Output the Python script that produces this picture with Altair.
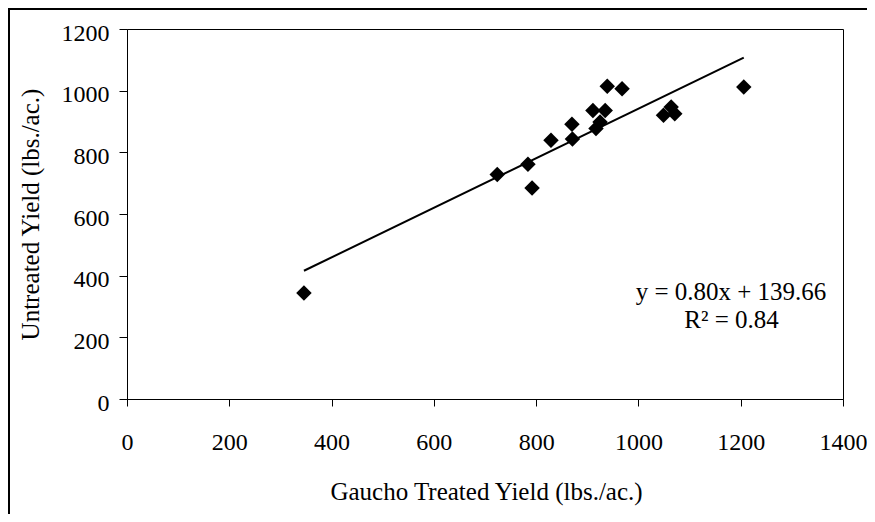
import altair as alt
import pandas as pd

# ---- data ----
treated = [346, 724, 784, 792, 829, 870, 871, 911, 917, 925, 935, 939, 968, 1049, 1064, 1071, 1206]
untreated = [344, 728, 761, 684, 839, 891, 843, 936, 877, 898, 936, 1014, 1006, 920, 947, 925, 1012]
x_ticks = [0, 200, 400, 600, 800, 1000, 1200, 1400]
y_ticks = [0, 200, 400, 600, 800, 1000, 1200]
equation = ["y = 0.80x + 139.66"]
r_squared = ["R\u00b2 = 0.84"]
x_title = "Gaucho Treated Yield (lbs./ac.)"
y_title = "Untreated Yield (lbs./ac.)"

df = pd.DataFrame({"treated": treated, "untreated": untreated})

FONT = "Liberation Serif"
FS = 25
LFS = 24
W, H = 716, 370
PAD = {"left": 119, "top": 21, "right": 24, "bottom": 115}

x_enc = alt.X(
    "treated:Q",
    scale=alt.Scale(domain=[0, 1400], nice=False, zero=True),
    axis=alt.Axis(
        values=x_ticks, format="d", title=x_title, tickSize=7, labelPadding=24,
        labelFlush=False, labelOverlap=False,
        titleX=W / 2 + 1, titleY=100, titleBaseline="alphabetic", titleAlign="center",
    ),
)
y_enc = alt.Y(
    "untreated:Q",
    scale=alt.Scale(domain=[0, 1200], nice=False, zero=True),
    axis=alt.Axis(
        values=y_ticks, format="d", title=y_title, tickSize=8, labelPadding=10, labelOffset=4,
        labelFlush=False, labelOverlap=False,
        titleAngle=-90, titleX=-89, titleY=H / 2, titleBaseline="alphabetic", titleAlign="center",
    ),
)

base = alt.Chart(df).encode(x=x_enc, y=y_enc)

points = base.mark_point(shape="diamond", filled=True, size=240, color="black", opacity=1)

trend = base.transform_regression("treated", "untreated").mark_line(color="black", strokeWidth=2)

eq_text = alt.Chart(pd.DataFrame({"t": equation})).mark_text(
    font=FONT, fontSize=FS, align="center", baseline="alphabetic", color="black"
).encode(text="t:N", x=alt.value(604), y=alt.value(271))

r2_text = alt.Chart(pd.DataFrame({"t": r_squared})).mark_text(
    font=FONT, fontSize=FS, align="center", baseline="alphabetic", color="black"
).encode(text="t:N", x=alt.value(604.5), y=alt.value(298.5))

frame_df = pd.DataFrame({"k": [0]})
frame_left = alt.Chart(frame_df).mark_rule(color="black", strokeWidth=2).encode(
    x=alt.value(-PAD["left"] + 1), y=alt.value(-21), y2=alt.value(H + PAD["bottom"])
)
frame_top = alt.Chart(frame_df).mark_rule(color="black", strokeWidth=2).encode(
    y=alt.value(-20), x=alt.value(-PAD["left"]), x2=alt.value(W + PAD["right"])
)

chart = (
    alt.layer(trend, points, eq_text, r2_text, frame_left, frame_top)
    .properties(width=W, height=H, padding=PAD, autosize=alt.AutoSizeParams(type="none"),
                background="white")
    .configure_view(stroke="black", strokeWidth=1)
    .configure_axis(
        grid=False, domainColor="black", domainWidth=1, tickColor="black", tickWidth=1,
        labelFont=FONT, labelFontSize=LFS, labelColor="black",
        titleFont=FONT, titleFontSize=FS, titleColor="black", titleFontWeight="normal",
    )
)

chart.save("out.html", embed_options={"renderer": "svg", "actions": False})
